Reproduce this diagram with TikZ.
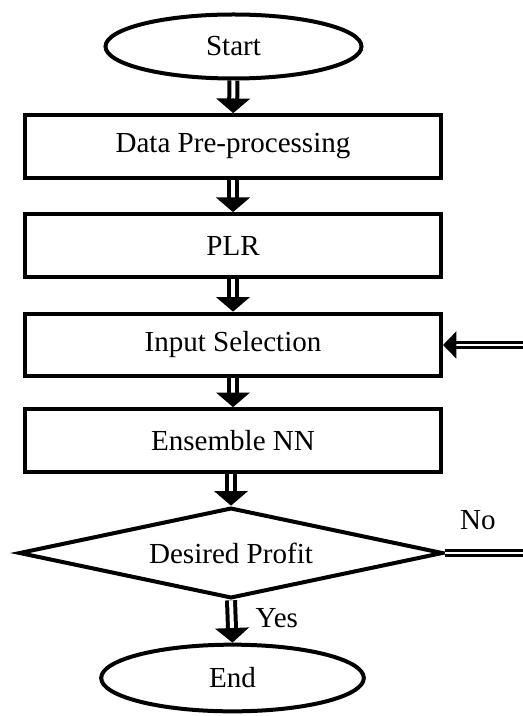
\documentclass[tikz,border=0pt]{standalone}
\usepackage{fontspec}
\setmainfont{Liberation Serif}
\usetikzlibrary{shapes.geometric,arrows.meta}

\tikzset{
  terminal/.style={draw, ellipse, line width=3pt, inner sep=0pt, minimum width=192pt, minimum height=48pt},
  process/.style={draw, rectangle, line width=3pt, inner sep=0pt, minimum width=312pt, minimum height=47pt},
  decision/.style={draw, diamond, aspect=4.68, line width=3pt, inner sep=0pt, minimum width=318pt, minimum height=68pt},
  flow/.style={double, line width=3pt, double distance=3pt, -{Triangle[width=25pt,length=11pt]}},
  loopback/.style={double, line width=2.4pt, double distance=1.6pt, -{Triangle[width=20pt,length=10pt]}}
}

\begin{document}
\begin{tikzpicture}[x=0.75pt, y=-0.75pt, font=\fontsize{21.8}{26}\selectfont]
    \useasboundingbox (0,0) rectangle (523,716);

    % Start and main steps
    \node[terminal] (start) at (233.5,46.5) {Start};
    \node[process] (prep) at (233,146.5) {Data Pre-processing};
    \node[process] (plr) at (233,245.5) {PLR};
    \node[process] (sel) at (233,345) {Input Selection};
    \node[process] (enn) at (233,440.5) {Ensemble NN};

    % Decision and end
    \node[decision] (dec) at (231,553) {Desired Profit};
    \node[terminal, minimum width=197pt, minimum height=50pt] (stop) at (232.5,678) {End};

    % Arrows down the chain
    \draw[flow] (start) -- (prep);
    \draw[flow] (prep) -- (plr);
    \draw[flow] (plr) -- (sel);
    \draw[flow] (sel) -- (enn);
    \draw[flow] (enn.south -| dec.north) -- (dec.north);
    \draw[flow] (dec.south) -- (stop.north);
    \node[anchor=west] (yes) at (251,618) {Yes};

    % Feedback loop
    \coordinate (fb) at (527,450);
    \draw[loopback] (dec.east) -- (dec.east -| fb) -- (sel.east -| fb) -- (sel.east);
    \node (no) at (478,520) {No};
\end{tikzpicture}
\end{document}
